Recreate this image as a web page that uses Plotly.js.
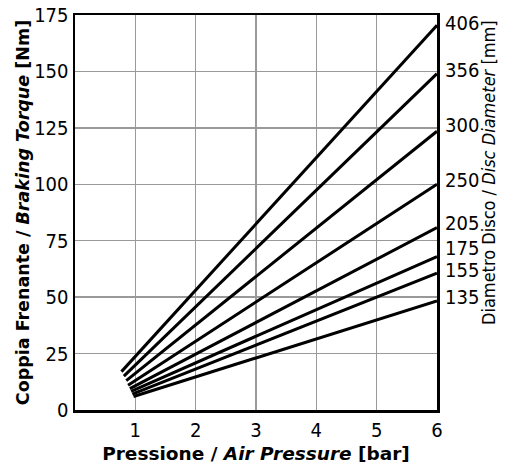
<!DOCTYPE html>
<html>
<head>
<meta charset="utf-8">
<script src="https://cdn.plot.ly/plotly-3.0.1.min.js"></script>
<style>html,body{margin:0;padding:0;background:#fff}#chart{width:513px;height:468px}</style>
</head>
<body>
<div id="chart"></div>
<script>
const diameters = ['406', '356', '300', '250', '205', '175', '155', '135'];
const startPressure = [0.77, 0.81, 0.85, 0.88, 0.91, 0.93, 0.95, 0.97];
const startTorque = [17, 15, 13, 11, 9.5, 8.3, 7.0, 6.0];
const endPressure = 6;
const endTorque = [170.5, 149, 123.5, 100, 80.8, 68, 60.6, 48.3];
const xTicks = [1, 2, 3, 4, 5, 6];
const yTicks = [0, 25, 50, 75, 100, 125, 150, 175];

// pixel nudges for the right-hand diameter labels (style only)
const labelShift = [2, 4, 6, 4, 5, 9, 3, 4];

const NUM = '"Liberation Sans Narrow", "DejaVu Sans Condensed", sans-serif';
const TXT = '"DejaVu Sans", sans-serif';
const TXTC = '"DejaVu Sans Condensed", "DejaVu Sans", sans-serif';

const traces = diameters.map((d, i) => ({
  type: 'scatter',
  mode: 'lines',
  x: [startPressure[i], endPressure],
  y: [startTorque[i], endTorque[i]],
  line: {color: '#000', width: 3},
  name: d,
  showlegend: false,
  hoverinfo: 'skip'
}));

const annotations = diameters.map((d, i) => ({
  x: endPressure, y: endTorque[i], xref: 'x', yref: 'y',
  text: d, showarrow: false, xanchor: 'left', yanchor: 'middle',
  xshift: 6, yshift: labelShift[i],
  font: {family: NUM, size: 20, color: '#000'}
}));
annotations.push({
  x: 1.141, y: 0.60, xref: 'paper', yref: 'paper',
  text: 'Diametro Disco / <i>Disc Diameter</i> [mm]',
  showarrow: false, textangle: -90, xanchor: 'center', yanchor: 'middle',
  font: {family: TXTC, size: 18, color: '#000'}
});

const layout = {
  width: 513, height: 468,
  margin: {l: 75, r: 76, t: 15, b: 58},
  paper_bgcolor: '#fff', plot_bgcolor: '#fff',
  font: {family: NUM, color: '#000', size: 20},
  xaxis: {
    range: [0, 6], tickvals: xTicks, ticktext: xTicks.map(String),
    showgrid: true, gridcolor: '#999', gridwidth: 1.5,
    showline: true, linecolor: '#000', linewidth: 2.5, mirror: true,
    ticks: '', zeroline: false, fixedrange: true, automargin: false,
    tickfont: {family: NUM, size: 20},
    title: {text: '<b>Pressione / <i>Air Pressure</i> [bar]</b>', font: {family: TXT, size: 18.5}, standoff: 7}
  },
  yaxis: {
    range: [0, 175], tickvals: yTicks, ticktext: yTicks.map(String),
    showgrid: true, gridcolor: '#999', gridwidth: 1.5,
    showline: true, linecolor: '#000', linewidth: 2.5, mirror: true,
    ticks: '', zeroline: false, fixedrange: true, automargin: false,
    tickfont: {family: NUM, size: 20},
    title: {text: '<b>Coppia Frenante / <i>Braking Torque</i> [Nm]</b>', font: {family: TXT, size: 17.5}, standoff: 0}
  },
  annotations: annotations
};

Plotly.newPlot('chart', traces, layout, {displayModeBar: false, staticPlot: true});
</script>
</body>
</html>
